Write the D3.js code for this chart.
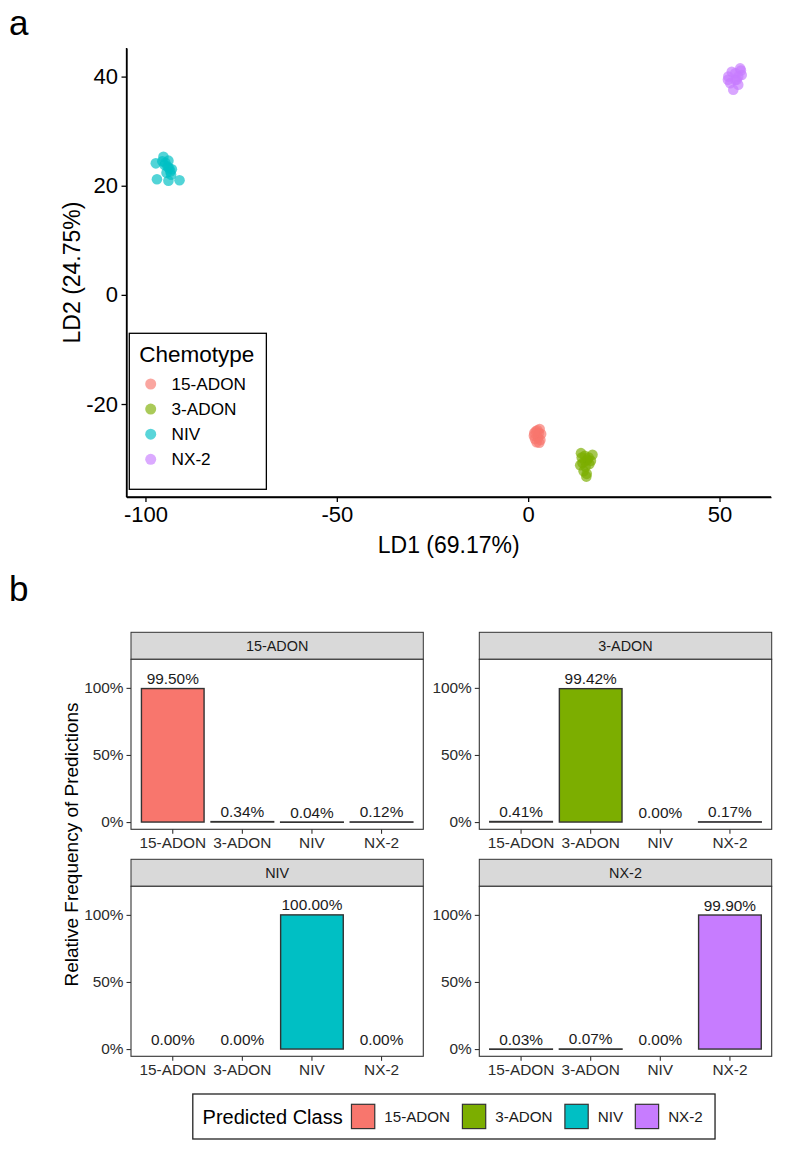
<!DOCTYPE html>
<html><head><meta charset="utf-8">
<script src="https://cdn.jsdelivr.net/npm/d3@7"></script>
<style>body{margin:0;background:#fff;} svg{display:block;font-family:"Liberation Sans",Arial,sans-serif;}</style>
</head><body><svg id="c" width="787" height="1161"></svg>
<script>
// ---------- data ----------
const chemotypes = ["15-ADON","3-ADON","NIV","NX-2"];
const chemoColors = ["#F8766D","#7CAE00","#00BFC4","#C77CFF"];
// LDA scores [LD1, LD2]
const pts15ADON = [[2.0,-25.0],[3.0,-24.6],[1.5,-25.8],[2.6,-26.2],[3.4,-25.5],[2.2,-27.0],[1.8,-26.4],[2.8,-25.3],[3.2,-26.6],[2.4,-24.8],[1.6,-25.3],[2.9,-27.1]];
const pts3ADON = [[13.8,-29.0],[16.8,-29.3],[14.8,-29.5],[15.5,-30.2],[14.2,-30.8],[15.0,-31.5],[14.5,-32.3],[15.3,-32.8],[16.0,-31.0],[13.6,-31.2],[14.9,-30.5],[15.8,-29.8],[14.0,-29.8],[15.2,-33.3],[16.4,-30.4]];
const ptsNIV = [[-95.3,25.3],[-97.3,24.1],[-97.0,21.2],[-94.0,20.9],[-91.1,21.0],[-93.1,23.0],[-94.8,24.2],[-94.2,23.5],[-93.5,22.6],[-95.0,23.8],[-94.0,24.6],[-93.3,22.0],[-94.5,22.4],[-95.6,24.5],[-93.8,23.2]];
const ptsNX2 = [[53.2,40.9],[55.4,41.5],[55.8,40.3],[52.3,40.0],[54.1,39.4],[52.8,38.8],[54.9,38.5],[53.6,37.6],[54.5,39.4],[55.6,41.1],[52.2,39.4],[54.1,40.6],[54.9,40.0]];
const ld1Ticks = [-100,-50,0,50];
const ld2Ticks = [-20,0,20,40];
const ld1Title = "LD1 (69.17%)";
const ld2Title = "LD2 (24.75%)";

// panel b: relative frequency of predictions, facet = actual class, x = predicted class
const predictedClasses = ["15-ADON","3-ADON","NIV","NX-2"];
const freq15ADON = [0.9950,0.0034,0.0004,0.0012];
const freq3ADON  = [0.0041,0.9942,0.0000,0.0017];
const freqNIV    = [0.0000,0.0000,1.0000,0.0000];
const freqNX2    = [0.0003,0.0007,0.0000,0.9990];
const freqTicks = [0,0.5,1];
const freqTickLabels = ["0%","50%","100%"];

// ---------- panel a ----------
const svg = d3.select("#c");
const groups = [pts15ADON, pts3ADON, ptsNIV, ptsNX2];
const allPts = groups.flat();
function expand(ext, f){const r=ext[1]-ext[0];return [ext[0]-r*f, ext[1]+r*f];}
const A = {l:126.5, r:771, t:48, b:497};
const x = d3.scaleLinear().domain(expand(d3.extent(allPts,d=>d[0]),0.05)).range([A.l,A.r]);
const y = d3.scaleLinear().domain(expand(d3.extent(allPts,d=>d[1]),0.05)).range([A.b,A.t]);
const plain = d => String(d);

svg.append("text").attr("x",9).attr("y",35).attr("font-size",35).text("a");

const gx = svg.append("g").attr("transform",`translate(0,${A.b})`)
  .call(d3.axisBottom(x).tickValues(ld1Ticks).tickFormat(plain).tickSize(5).tickSizeOuter(0).tickPadding(4));
const gy = svg.append("g").attr("transform",`translate(${A.l},0)`)
  .call(d3.axisLeft(y).tickValues(ld2Ticks).tickFormat(plain).tickSize(5).tickSizeOuter(0).tickPadding(3.5));
[gx,gy].forEach(g=>{
  g.select(".domain").attr("stroke","#000").attr("stroke-width",1.3);
  g.selectAll(".tick line").attr("stroke","#000").attr("stroke-width",1.3);
  g.selectAll(".tick text").attr("fill","#000").attr("font-size",22).attr("font-family","Liberation Sans, Arial, sans-serif");
});
svg.append("line").attr("x1",A.l).attr("x2",A.r).attr("y1",A.b).attr("y2",A.b).attr("stroke","#000").attr("stroke-width",1.3);
svg.append("line").attr("x1",A.l).attr("x2",A.l).attr("y1",A.t).attr("y2",A.b).attr("stroke","#000").attr("stroke-width",1.3);

svg.append("text").attr("x",(A.l+A.r)/2).attr("y",553).attr("text-anchor","middle").attr("font-size",23).text(ld1Title);
svg.append("text").attr("transform",`translate(80,${(A.t+A.b)/2}) rotate(-90)`).attr("text-anchor","middle").attr("font-size",23).text(ld2Title);

groups.forEach((g,i)=>{
  svg.append("g").selectAll("circle").data(g).join("circle")
    .attr("cx",d=>x(d[0])).attr("cy",d=>y(d[1])).attr("r",5.3)
    .attr("fill",chemoColors[i]).attr("fill-opacity",0.68);
});

// legend a
const La = svg.append("g");
const laBox = La.append("rect").attr("x",129.3).attr("y",333.3).attr("height",156).attr("fill","#fff").attr("stroke","#000").attr("stroke-width",1.3);
const laTitle = La.append("text").attr("x",139.3).attr("y",362).attr("font-size",22.5).text("Chemotype");
let maxR = 139.3 + laTitle.node().getComputedTextLength();
chemotypes.forEach((c,i)=>{
  const cy = 384 + i*25.1;
  La.append("circle").attr("cx",150.7).attr("cy",cy).attr("r",5.5).attr("fill",chemoColors[i]).attr("fill-opacity",0.65);
  const t = La.append("text").attr("x",171.5).attr("y",cy+6).attr("font-size",17.2).text(c);
  maxR = Math.max(maxR, 171.5 + t.node().getComputedTextLength());
});
laBox.attr("width", maxR + 12 - 129.3);

// ---------- panel b ----------
svg.append("text").attr("x",9).attr("y",601).attr("font-size",35).text("b");
const facets = [
  {name:"15-ADON", vals:freq15ADON, col:0,row:0},
  {name:"3-ADON",  vals:freq3ADON,  col:1,row:0},
  {name:"NIV",     vals:freqNIV,    col:0,row:1},
  {name:"NX-2",    vals:freqNX2,    col:1,row:1}
];
const colX = [[131,423.3],[479.3,771.7]];
const rowTop = [632.3, 859.3];
const stripH = 27, panelH = 170;
const txtCol = "#2b2b2b";
facets.forEach(f=>{
  const [x0,x1] = colX[f.col];
  const st = rowTop[f.row], pt = st+stripH, pb = pt+panelH;
  const g = svg.append("g");
  const xb = d3.scaleBand().domain(predictedClasses).range([x0,x1]).paddingInner(0.1).paddingOuter(0.15);
  const yb = d3.scaleLinear().domain([-0.054,1.213]).range([pb,pt]);
  g.append("rect").attr("x",x0).attr("y",st).attr("width",x1-x0).attr("height",stripH).attr("fill","#D9D9D9").attr("stroke","#333").attr("stroke-width",1);
  g.append("text").attr("x",(x0+x1)/2).attr("y",st+stripH/2+5).attr("text-anchor","middle").attr("font-size",14.4).attr("fill","#1a1a1a").text(f.name);
  g.append("rect").attr("x",x0).attr("y",pt).attr("width",x1-x0).attr("height",panelH).attr("fill","#fff");
  const data = predictedClasses.map((c,i)=>({c, v:f.vals[i], i}));
  g.append("g").selectAll("rect").data(data.filter(d=>d.v>0)).join("rect")
    .attr("x",d=>xb(d.c)).attr("width",xb.bandwidth())
    .attr("y",d=>yb(d.v)).attr("height",d=>Math.max(0.3,yb(0)-yb(d.v)))
    .attr("fill",d=>chemoColors[d.i]).attr("stroke","#333").attr("stroke-width",1.4);
  g.append("g").selectAll("text").data(data).join("text")
    .attr("x",d=>xb(d.c)+xb.bandwidth()/2).attr("y",d=>yb(d.v)-4.5)
    .attr("text-anchor","middle").attr("font-size",15.4).attr("fill","#1a1a1a")
    .text(d=>d3.format(".2%")(d.v));
  g.append("rect").attr("x",x0).attr("y",pt).attr("width",x1-x0).attr("height",panelH).attr("fill","none").attr("stroke","#333").attr("stroke-width",1.1);
  const ax = g.append("g").attr("transform",`translate(0,${pb})`)
    .call(d3.axisBottom(xb).tickSize(4.5).tickPadding(3.5).tickSizeOuter(0));
  const ay = g.append("g").attr("transform",`translate(${x0},0)`)
    .call(d3.axisLeft(yb).tickValues(freqTicks).tickFormat((d,i)=>freqTickLabels[i]).tickSize(4.5).tickPadding(3).tickSizeOuter(0));
  [ax,ay].forEach(a=>{
    a.select(".domain").remove();
    a.selectAll(".tick line").attr("stroke","#333").attr("stroke-width",1.1);
    a.selectAll(".tick text").attr("fill",txtCol).attr("font-size",15.4).attr("font-family","Liberation Sans, Arial, sans-serif");
  });
});
svg.append("text").attr("transform",`translate(78,844.5) rotate(-90)`).attr("text-anchor","middle").attr("font-size",19).attr("fill","#000").text("Relative Frequency of Predictions");

// legend b
const Lb = svg.append("g");
const lbBox = Lb.append("rect").attr("x",192.8).attr("y",1094).attr("height",45).attr("fill","#fff").attr("stroke","#222").attr("stroke-width",1.3);
const lbTitle = Lb.append("text").attr("x",202.6).attr("y",1123.5).attr("font-size",20).text("Predicted Class");
let cx = 202.6 + lbTitle.node().getComputedTextLength() + 8.8;
predictedClasses.forEach((c,i)=>{
  Lb.append("rect").attr("x",cx).attr("y",1104.3).attr("width",23.3).attr("height",24.3).attr("fill",chemoColors[i]).attr("stroke","#333").attr("stroke-width",1.2);
  const t = Lb.append("text").attr("x",cx+32.8).attr("y",1122).attr("font-size",15.2).attr("fill","#1a1a1a").text(c);
  cx = cx + 32.8 + t.node().getComputedTextLength() + 12.3;
});
lbBox.attr("width", cx - 192.8);
</script></body></html>
